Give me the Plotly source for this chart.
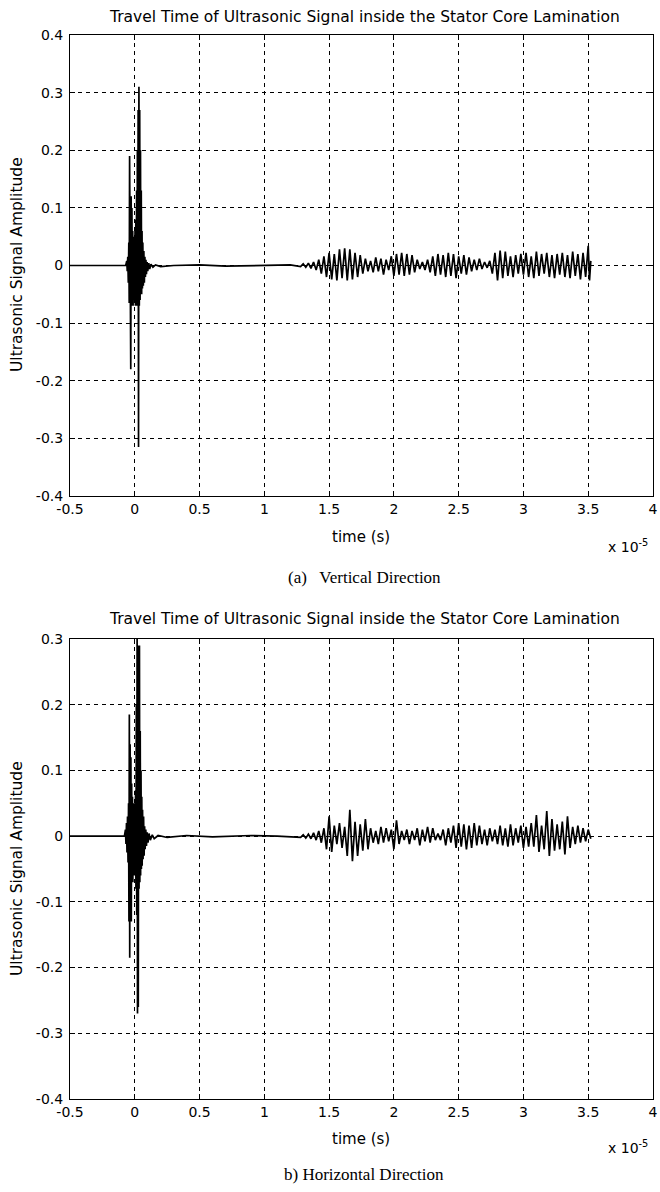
import plotly.graph_objects as go

# ---------------- data (time in units of 1e-5 s) ----------------
vert_time = [
    -0.500, -0.070, -0.062, -0.058, -0.054, -0.050, -0.046, -0.043, -0.040, -0.037,
    -0.034, -0.031, -0.028, -0.025, -0.022, -0.019, -0.016, -0.013, -0.010, -0.007,
    -0.004, -0.001, 0.002, 0.005, 0.008, 0.011, 0.014, 0.017, 0.020, 0.023,
    0.026, 0.029, 0.032, 0.035, 0.038, 0.041, 0.044, 0.047, 0.050, 0.053,
    0.056, 0.059, 0.062, 0.066, 0.070, 0.074, 0.078, 0.082, 0.086, 0.090,
    0.095, 0.100, 0.108, 0.115, 0.125, 0.140, 0.160, 0.200, 0.300, 0.500,
    0.700, 1.000, 1.200, 1.280,
    1.30, 1.32, 1.34, 1.36, 1.38, 1.40, 1.42, 1.44, 1.46, 1.48,
    1.50, 1.52, 1.54, 1.56, 1.58, 1.60, 1.62, 1.64, 1.66, 1.68,
    1.70, 1.72, 1.74, 1.76, 1.78, 1.80, 1.82, 1.84, 1.86, 1.88,
    1.90, 1.92, 1.94, 1.96, 1.98, 2.00, 2.02, 2.04, 2.06, 2.08,
    2.10, 2.12, 2.14, 2.16, 2.18, 2.20, 2.22, 2.24, 2.26, 2.28,
    2.30, 2.32, 2.34, 2.36, 2.38, 2.40, 2.42, 2.44, 2.46, 2.48,
    2.50, 2.52, 2.54, 2.56, 2.58, 2.60, 2.62, 2.64, 2.66, 2.68,
    2.70, 2.72, 2.74, 2.76, 2.78, 2.80, 2.82, 2.84, 2.86, 2.88,
    2.90, 2.92, 2.94, 2.96, 2.98, 3.00, 3.02, 3.04, 3.06, 3.08,
    3.10, 3.12, 3.14, 3.16, 3.18, 3.20, 3.22, 3.24, 3.26, 3.28,
    3.30, 3.32, 3.34, 3.36, 3.38, 3.40, 3.42, 3.44, 3.46, 3.48,
    3.50, 3.51, 3.52,
]
vert_amp = [
    0.000, 0.000, 0.008, -0.010, 0.015, -0.030, 0.040, -0.065, 0.190, -0.060,
    0.150, -0.180, 0.120, -0.070, 0.100, -0.060, 0.060, -0.070, 0.050, -0.060,
    0.045, -0.050, 0.060, -0.070, 0.080, -0.060, 0.130, -0.070, 0.200, -0.060,
    0.270, -0.315, 0.310, -0.070, 0.270, -0.060, 0.200, -0.050, 0.130, -0.050,
    0.060, -0.040, 0.040, -0.035, 0.025, -0.030, 0.015, -0.020, 0.010, -0.015,
    0.006, -0.010, 0.004, -0.006, 0.002, -0.003, 0.001, -0.002, 0.000, 0.001,
    -0.001, 0.000, 0.001, -0.002,
    0.003, -0.003, 0.004, -0.005, 0.006, -0.008, 0.010, -0.014, 0.016, -0.020,
    0.022, -0.024, 0.020, -0.026, 0.028, -0.022, 0.030, -0.026, 0.028, -0.024,
    0.022, -0.020, 0.018, -0.014, 0.012, -0.010, 0.008, -0.012, 0.014, -0.010,
    0.012, -0.016, 0.010, -0.008, 0.016, -0.018, 0.020, -0.016, 0.022, -0.018,
    0.020, -0.016, 0.018, -0.012, 0.010, -0.006, 0.006, -0.008, 0.010, -0.012,
    0.016, -0.018, 0.020, -0.016, 0.018, -0.020, 0.022, -0.018, 0.020, -0.022,
    0.016, -0.014, 0.018, -0.016, 0.014, -0.010, 0.010, -0.008, 0.012, -0.006,
    0.006, -0.004, 0.008, -0.014, 0.022, -0.026, 0.026, -0.022, 0.024, -0.018,
    0.016, -0.020, 0.018, -0.014, 0.020, -0.016, 0.022, -0.020, 0.016, -0.022,
    0.024, -0.018, 0.020, -0.014, 0.022, -0.020, 0.018, -0.022, 0.020, -0.016,
    0.022, -0.020, 0.018, -0.022, 0.024, -0.018, 0.020, -0.024, 0.022, -0.020,
    0.034, -0.026, 0.008,
]

horiz_time = [
    -0.500, -0.080, -0.072, -0.068, -0.064, -0.060, -0.056, -0.052, -0.048, -0.045,
    -0.042, -0.039, -0.036, -0.033, -0.030, -0.027, -0.024, -0.021, -0.018, -0.015,
    -0.012, -0.009, -0.006, -0.003, 0.000, 0.003, 0.006, 0.009, 0.012, 0.015,
    0.018, 0.021, 0.024, 0.027, 0.030, 0.033, 0.036, 0.039, 0.042, 0.045,
    0.048, 0.051, 0.054, 0.057, 0.060, 0.064, 0.068, 0.072, 0.076, 0.080,
    0.085, 0.090, 0.096, 0.102, 0.110, 0.120, 0.135, 0.150, 0.180, 0.250,
    0.400, 0.600, 0.900, 1.100, 1.280,
    1.30, 1.32, 1.34, 1.36, 1.38, 1.40, 1.42, 1.44, 1.46, 1.48,
    1.50, 1.52, 1.54, 1.56, 1.58, 1.60, 1.62, 1.64, 1.66, 1.68,
    1.70, 1.72, 1.74, 1.76, 1.78, 1.80, 1.82, 1.84, 1.86, 1.88,
    1.90, 1.92, 1.94, 1.96, 1.98, 2.00, 2.02, 2.04, 2.06, 2.08,
    2.10, 2.12, 2.14, 2.16, 2.18, 2.20, 2.22, 2.24, 2.26, 2.28,
    2.30, 2.32, 2.34, 2.36, 2.38, 2.40, 2.42, 2.44, 2.46, 2.48,
    2.50, 2.52, 2.54, 2.56, 2.58, 2.60, 2.62, 2.64, 2.66, 2.68,
    2.70, 2.72, 2.74, 2.76, 2.78, 2.80, 2.82, 2.84, 2.86, 2.88,
    2.90, 2.92, 2.94, 2.96, 2.98, 3.00, 3.02, 3.04, 3.06, 3.08,
    3.10, 3.12, 3.14, 3.16, 3.18, 3.20, 3.22, 3.24, 3.26, 3.28,
    3.30, 3.32, 3.34, 3.36, 3.38, 3.40, 3.42, 3.44, 3.46, 3.48,
    3.50, 3.52,
]
horiz_amp = [
    0.000, 0.000, 0.010, -0.012, 0.020, -0.025, 0.030, -0.040, 0.050, -0.130,
    0.185, -0.185, 0.140, -0.090, 0.120, -0.130, 0.080, -0.060, 0.060, -0.070,
    0.050, -0.060, 0.040, -0.050, 0.050, -0.060, 0.070, -0.080, 0.200, -0.120,
    0.300, -0.270, 0.290, -0.260, 0.250, -0.080, 0.290, -0.070, 0.160, -0.060,
    0.100, -0.050, 0.060, -0.045, 0.040, -0.035, 0.030, -0.030, 0.015, -0.020,
    0.010, -0.015, 0.006, -0.010, 0.004, -0.006, 0.002, -0.004, 0.001, -0.002,
    0.001, -0.001, 0.001, 0.000, -0.002,
    0.002, -0.003, 0.003, -0.004, 0.005, -0.006, 0.008, -0.010, 0.012, -0.020,
    0.030, -0.024, 0.016, -0.012, 0.020, -0.018, 0.014, -0.030, 0.040, -0.038,
    0.022, -0.030, 0.018, -0.022, 0.026, -0.020, 0.012, -0.010, 0.008, -0.012,
    0.014, -0.010, 0.012, -0.008, 0.010, -0.020, 0.024, -0.012, 0.008, -0.006,
    0.010, -0.012, 0.008, -0.006, 0.012, -0.014, 0.010, -0.008, 0.014, -0.010,
    0.012, -0.006, 0.004, -0.006, 0.010, -0.014, 0.012, -0.010, 0.016, -0.018,
    0.020, -0.016, 0.018, -0.020, 0.016, -0.018, 0.020, -0.014, 0.016, -0.012,
    0.010, -0.014, 0.012, -0.008, 0.010, -0.012, 0.016, -0.014, 0.012, -0.016,
    0.018, -0.014, 0.012, -0.010, 0.016, -0.018, 0.014, -0.016, 0.020, -0.016,
    0.032, -0.024, 0.016, -0.020, 0.038, -0.030, 0.026, -0.022, 0.018, -0.020,
    0.022, -0.028, 0.030, -0.018, 0.014, -0.012, 0.016, -0.010, 0.012, -0.008,
    0.010, -0.004,
]

x_ticks = [-0.5, 0, 0.5, 1, 1.5, 2, 2.5, 3, 3.5, 4]
x_tick_labels = ["-0.5", "0", "0.5", "1", "1.5", "2", "2.5", "3", "3.5", "4"]
y_ticks_top = [0.4, 0.3, 0.2, 0.1, 0, -0.1, -0.2, -0.3, -0.4]
y_labels_top = ["0.4", "0.3", "0.2", "0.1", "0", "-0.1", "-0.2", "-0.3", "-0.4"]
y_ticks_bot = [0.3, 0.2, 0.1, 0, -0.1, -0.2, -0.3, -0.4]
y_labels_bot = ["0.3", "0.2", "0.1", "0", "-0.1", "-0.2", "-0.3", "-0.4"]

title_text = "Travel Time of Ultrasonic Signal inside the Stator Core Lamination"
ylabel_text = "Ultrasonic Signal Amplitude"
xlabel_text = "time (s)"
caption_a = "(a)   Vertical Direction"
caption_b = "b) Horizontal Direction"

# ---------------- layout helpers ----------------
W, H = 660, 1192
SANS = "DejaVu Sans, Liberation Sans, Arial, sans-serif"
SERIF = "Liberation Serif, Times New Roman, serif"

def px(xp):
    return xp / W

def py(yp):
    return 1 - yp / H

X_DOM = [px(70), px(653)]
TOP_DOM = [py(496), py(35)]
BOT_DOM = [py(1099), py(639)]

fig = go.Figure()
fig.add_trace(go.Scatter(x=vert_time, y=vert_amp, mode="lines",
                         line=dict(color="black", width=1.7),
                         xaxis="x", yaxis="y", showlegend=False, hoverinfo="skip"))
fig.add_trace(go.Scatter(x=horiz_time, y=horiz_amp, mode="lines",
                         line=dict(color="black", width=1.7),
                         xaxis="x2", yaxis="y2", showlegend=False, hoverinfo="skip"))

def xaxis(anchor):
    return dict(domain=X_DOM, range=[-0.5, 4], anchor=anchor, automargin=False,
                tickmode="array", tickvals=x_ticks, ticktext=x_tick_labels,
                showgrid=True, gridcolor="black", gridwidth=1, griddash="4px,4px",
                showline=True, linecolor="black", linewidth=1, mirror="ticks",
                ticks="inside", ticklen=5, tickcolor="black", zeroline=False,
                tickfont=dict(family=SANS, size=14, color="black"))

def yaxis(anchor, dom, rng, tv, tt):
    return dict(domain=dom, range=rng, anchor=anchor, automargin=False,
                tickmode="array", tickvals=tv, ticktext=tt,
                showgrid=True, gridcolor="black", gridwidth=1, griddash="4px,4px",
                showline=True, linecolor="black", linewidth=1, mirror="ticks",
                ticks="inside", ticklen=5, tickcolor="black", zeroline=False,
                ticklabelstandoff=3,
                tickfont=dict(family=SANS, size=14, color="black"))

annotations = []
def ann(text, xp, yp, size=14, family=SANS, angle=0, xanchor="center"):
    annotations.append(dict(text=text, x=px(xp), y=py(yp), xref="paper", yref="paper",
                            showarrow=False, textangle=angle, xanchor=xanchor, yanchor="middle",
                            font=dict(family=family, size=size, color="black")))

for (t_y, xl_y, x10_y, cap_y, cap, ymid) in [
    (17, 537, 546, 577, caption_a, 265),
    (619, 1139, 1147, 1174, caption_b, 869),
]:
    ann(title_text, 365, t_y, size=15.5)
    ann(xlabel_text, 361, xl_y, size=15)
    ann("x 10<sup>-5</sup>", 628, x10_y, size=14)
    ann(cap, 364, cap_y, size=17, family=SERIF)
    ann(ylabel_text, 17, ymid, size=15.5, angle=-90)

fig.update_layout(
    width=W, height=H,
    margin=dict(l=0, r=0, t=0, b=0, autoexpand=False),
    paper_bgcolor="white", plot_bgcolor="white",
    xaxis=xaxis("y"),
    yaxis=yaxis("x", TOP_DOM, [-0.4, 0.4], y_ticks_top, y_labels_top),
    xaxis2=xaxis("y2"),
    yaxis2=yaxis("x2", BOT_DOM, [-0.4, 0.3], y_ticks_bot, y_labels_bot),
    annotations=annotations,
    showlegend=False,
)

fig.write_html("out.html", config={"displayModeBar": False},
               post_script="document.body.style.margin='0px';document.body.style.overflow='hidden';")
